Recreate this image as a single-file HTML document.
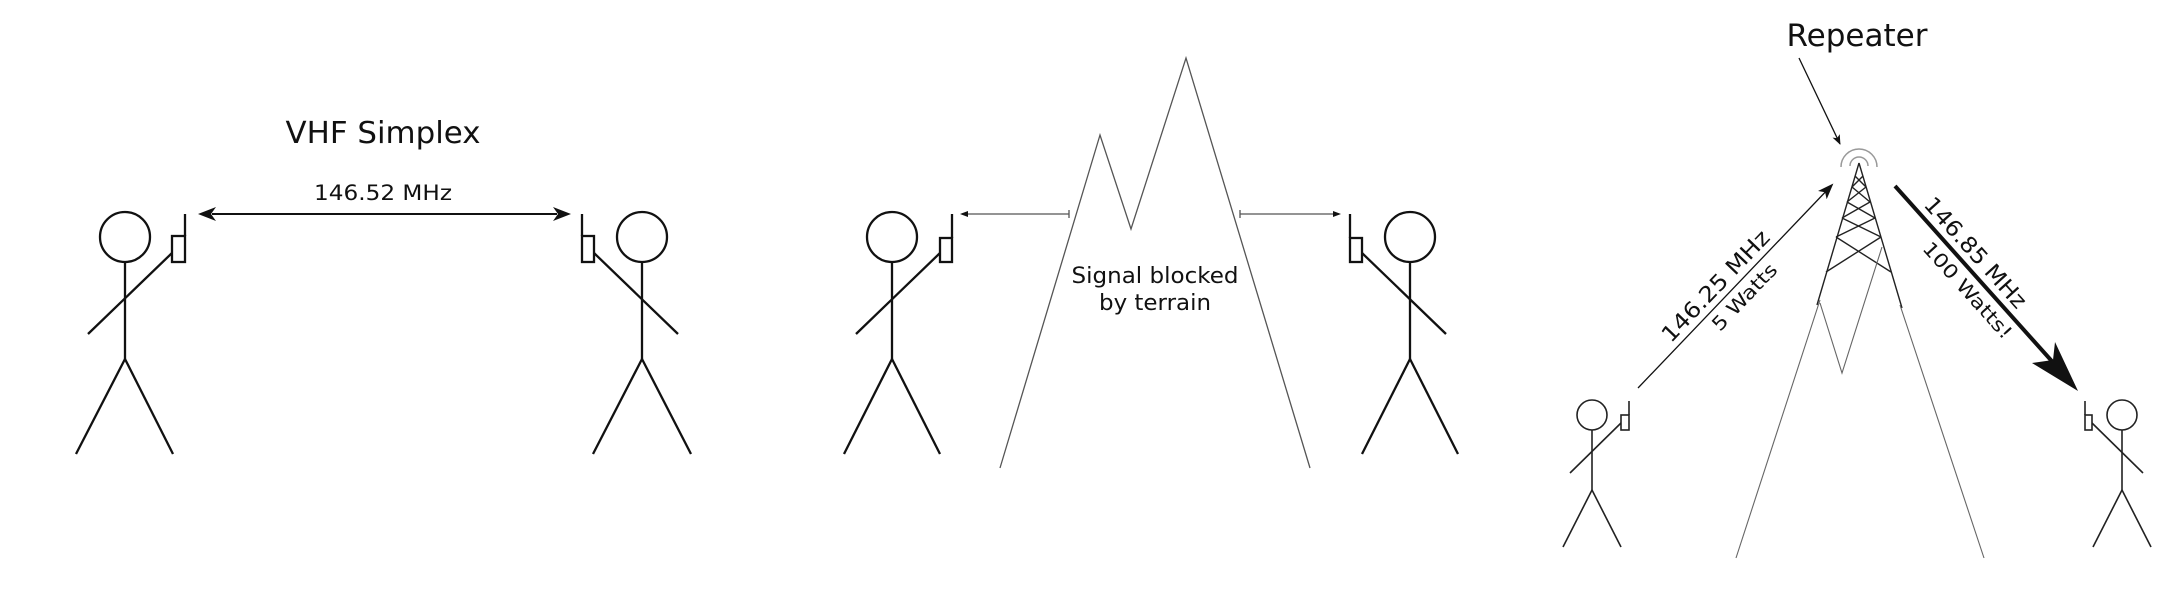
<!DOCTYPE html>
<html><head><meta charset="utf-8"><style>
html,body{margin:0;padding:0;background:#fff;}
svg{display:block;}
text{font-family:"DejaVu Sans","Liberation Sans",sans-serif;fill:#111;}
</style></head><body>
<svg width="2173" height="593" viewBox="0 0 2173 593" xmlns="http://www.w3.org/2000/svg">
<defs>
<marker id="ah" markerWidth="16" markerHeight="12" refX="14" refY="6" orient="auto" markerUnits="userSpaceOnUse">
<path d="M0,0 L16,6 L0,12 L4,6 Z" fill="#111"/>
</marker>
<marker id="ahs" markerWidth="10" markerHeight="8" refX="9" refY="4" orient="auto" markerUnits="userSpaceOnUse">
<path d="M0,0 L10,4 L0,8 L2.5,4 Z" fill="#111"/>
</marker>
</defs>

<text x="383" y="143" font-size="30" text-anchor="middle" textLength="195" lengthAdjust="spacingAndGlyphs">VHF Simplex</text>
<text x="383" y="200" font-size="21" text-anchor="middle" textLength="138" lengthAdjust="spacingAndGlyphs">146.52 MHz</text>
<line x1="212" y1="214" x2="557" y2="214" stroke="#111" stroke-width="2"/>
<path d="M198,214 L216,207 L211,214 L216,221 Z" fill="#111"/>
<path d="M571,214 L553,207 L558,214 L553,221 Z" fill="#111"/>

<g stroke="#111" stroke-width="2.3" fill="none">
  <ellipse cx="125" cy="237" rx="25" ry="25"/>
  <line x1="125" y1="262" x2="125" y2="359"/>
  <line x1="125" y1="359" x2="76" y2="454"/>
  <line x1="125" y1="359" x2="173" y2="454"/>
  <line x1="88" y1="334" x2="172" y2="253"/>
  <rect x="172" y="236" width="13" height="26"/>
  <line x1="185" y1="236" x2="185" y2="214"/>

  <ellipse cx="642" cy="237" rx="25" ry="25"/>
  <line x1="642" y1="262" x2="642" y2="359"/>
  <line x1="642" y1="359" x2="593" y2="454"/>
  <line x1="642" y1="359" x2="691" y2="454"/>
  <line x1="678" y1="334" x2="594" y2="253"/>
  <rect x="582" y="236" width="12" height="26"/>
  <line x1="582" y1="236" x2="582" y2="214"/>

  <ellipse cx="892" cy="237" rx="25" ry="25"/>
  <line x1="892" y1="262" x2="892" y2="359"/>
  <line x1="892" y1="359" x2="844" y2="454"/>
  <line x1="892" y1="359" x2="940" y2="454"/>
  <line x1="856" y1="334" x2="940" y2="253"/>
  <rect x="940" y="238" width="12" height="24"/>
  <line x1="952" y1="238" x2="952" y2="214"/>

  <ellipse cx="1410" cy="237" rx="25" ry="25"/>
  <line x1="1410" y1="262" x2="1410" y2="359"/>
  <line x1="1410" y1="359" x2="1362" y2="454"/>
  <line x1="1410" y1="359" x2="1458" y2="454"/>
  <line x1="1446" y1="334" x2="1362" y2="253"/>
  <rect x="1350" y="238" width="12" height="24"/>
  <line x1="1350" y1="238" x2="1350" y2="214"/>
</g>

<polyline points="1000,468 1100,135 1131,229 1186,58 1310,468" fill="none" stroke="#555" stroke-width="1.3"/>
<line x1="962" y1="214" x2="1069" y2="214" stroke="#555" stroke-width="1.3"/>
<line x1="1069" y1="210" x2="1069" y2="218" stroke="#555" stroke-width="1.3"/>
<path d="M960,214 L968,211 L968,217 Z" fill="#111"/>
<line x1="1240" y1="214" x2="1339" y2="214" stroke="#555" stroke-width="1.3"/>
<line x1="1240" y1="210" x2="1240" y2="218" stroke="#555" stroke-width="1.3"/>
<path d="M1341,214 L1333,211 L1333,217 Z" fill="#111"/>
<text x="1155" y="283" font-size="22" text-anchor="middle" textLength="167" lengthAdjust="spacingAndGlyphs">Signal blocked</text>
<text x="1155" y="310" font-size="22" text-anchor="middle" textLength="112" lengthAdjust="spacingAndGlyphs">by terrain</text>

<text x="1857" y="46" font-size="31" text-anchor="middle" textLength="141" lengthAdjust="spacingAndGlyphs">Repeater</text>
<line x1="1799" y1="58" x2="1840" y2="144" stroke="#111" stroke-width="1.3" marker-end="url(#ahs)"/>

<g fill="none">
  <path d="M1850,166 A9,9 0 0 1 1868,166" stroke="#999" stroke-width="1.5"/>
  <path d="M1841,167 A18,18 0 0 1 1877,167" stroke="#999" stroke-width="1.5"/>
  <g stroke="#222" stroke-width="1.4">
    <line x1="1859" y1="163" x2="1817" y2="305"/>
    <line x1="1859" y1="163" x2="1902" y2="308"/>
    <line x1="1855" y1="176" x2="1866" y2="187"/>
    <line x1="1863" y1="176" x2="1852" y2="187"/>
    <line x1="1852" y1="187" x2="1870" y2="202"/>
    <line x1="1866" y1="187" x2="1847" y2="202"/>
    <line x1="1847" y1="202" x2="1875" y2="218"/>
    <line x1="1870" y1="202" x2="1842" y2="218"/>
    <line x1="1842" y1="218" x2="1881" y2="237"/>
    <line x1="1875" y1="218" x2="1836" y2="237"/>
    <line x1="1836" y1="237" x2="1891" y2="272"/>
    <line x1="1881" y1="237" x2="1826" y2="272"/>
  </g>
  <g stroke="#666" stroke-width="1.1">
    <line x1="1820" y1="300" x2="1736" y2="558"/>
    <line x1="1900" y1="305" x2="1984" y2="558"/>
    <polyline points="1820,303 1842,373 1882,247"/>
  </g>
</g>

<line x1="1638" y1="388" x2="1832" y2="185" stroke="#111" stroke-width="1.3" marker-end="url(#ah)"/>
<text transform="translate(1726,296) rotate(-46.3)" x="0" y="-7" font-size="22" text-anchor="middle" textLength="145" lengthAdjust="spacingAndGlyphs">146.25 MHz</text>
<text transform="translate(1734,287) rotate(-46.3)" x="0" y="21" font-size="19" text-anchor="middle" textLength="85" lengthAdjust="spacingAndGlyphs">5 Watts</text>

<line x1="1895" y1="186" x2="2058" y2="368" stroke="#111" stroke-width="4"/>
<path d="M2078,391 L2032,363 L2053,360 L2055,342 Z" fill="#111"/>
<text transform="translate(1964,263) rotate(48)" x="0" y="-8" font-size="22" text-anchor="middle" textLength="141" lengthAdjust="spacingAndGlyphs">146.85 MHz</text>
<text transform="translate(1979,280) rotate(48)" x="0" y="22" font-size="19" text-anchor="middle" textLength="123" lengthAdjust="spacingAndGlyphs">100 Watts!</text>

<g stroke="#222" stroke-width="1.6" fill="none">
  <circle cx="1592" cy="415" r="15"/>
  <line x1="1592" y1="430" x2="1592" y2="490"/>
  <line x1="1592" y1="490" x2="1563" y2="547"/>
  <line x1="1592" y1="490" x2="1621" y2="547"/>
  <line x1="1570" y1="473" x2="1621" y2="423"/>
  <rect x="1621" y="415" width="8" height="15"/>
  <line x1="1629" y1="415" x2="1629" y2="401"/>

  <circle cx="2122" cy="415" r="15"/>
  <line x1="2122" y1="430" x2="2122" y2="490"/>
  <line x1="2122" y1="490" x2="2093" y2="547"/>
  <line x1="2122" y1="490" x2="2151" y2="547"/>
  <line x1="2143" y1="473" x2="2092" y2="423"/>
  <rect x="2085" y="415" width="7" height="15"/>
  <line x1="2085" y1="415" x2="2085" y2="401"/>
</g>
</svg>
</body></html>
